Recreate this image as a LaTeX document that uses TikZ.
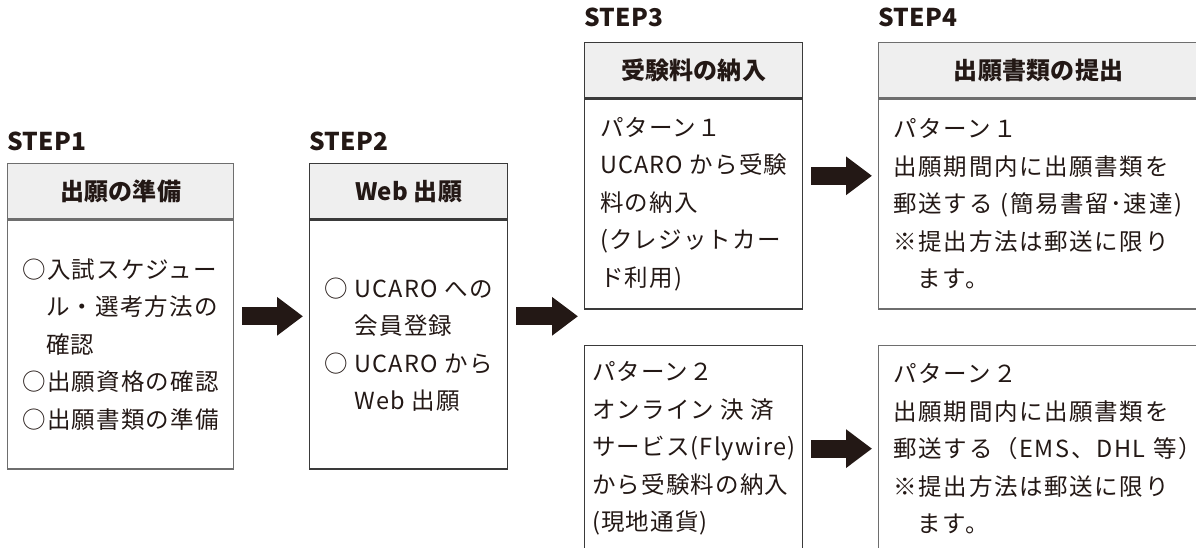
\documentclass[tikz,border=0pt]{standalone}
\usepackage{fontspec}
\setmainfont{Noto Sans CJK JP}[LetterSpace=5, BoldFeatures={LetterSpace=1}]
\newfontfamily\widefont{Noto Sans CJK JP}[LetterSpace=7]
\usetikzlibrary{positioning}
\usetikzlibrary{arrows.meta}
\usetikzlibrary{fit}
\definecolor{ink}{HTML}{231815}
\definecolor{headgray}{HTML}{EFEFEF}
\definecolor{framegray}{HTML}{6E6E6E}
\definecolor{framedark}{HTML}{3A3A3A}
\tikzset{head/.style = {draw=framegray, fill=headgray, line width=1.3pt,
                        anchor=north west, minimum height=55pt, inner sep=0pt,
                        text=ink, font=\fontsize{24}{28}\selectfont\bfseries},
         body/.style = {draw=framegray, line width=1.3pt, inner sep=0pt,
                        align=left, text=ink,
                        font=\fontsize{23.5}{37.5}\selectfont},
         widebody/.style = {body, inner xsep=15pt, text width=295pt,
                            font=\fontsize{23.5}{37.5}\widefont},
         steplabel/.style = {inner sep=0pt, text=ink,
                             font=\fontsize{24.5}{28}\selectfont\bfseries},
         frame/.style = {inner sep=0pt, outer sep=0pt},
         bigarrow/.style = {draw=ink, line width=18pt,
                            -{Triangle[length=26pt, width=37pt]},
                            shorten <=8pt, shorten >=6pt}}

\begin{document}
\begin{tikzpicture}[x=1pt, y=-1pt]
    \useasboundingbox (0, 0) rectangle (1196, 548);
    \clip (0, 0) rectangle (1196, 548);

    \node [head, minimum width=226] (h1) at (7, 163) {出願の準備};
    \node [body, minimum width=226, minimum height=249, below=0pt of h1] (b1)
      {○入試スケジュー\\\phantom{○}ル・選考方法の\\\phantom{○}確認\\○出願資格の確認\\○出願書類の準備};
    \node [steplabel, above right=12pt and 0pt of h1.north west] (s1) {STEP1};

    \node [head, draw=framedark, minimum width=198] (h2) at (309, 163) {Web 出願};
    \node [body, draw=framedark, minimum width=198, minimum height=249, below=0pt of h2] (b2)
      {○ UCARO への\\\phantom{○ }会員登録\\○ UCARO から\\\phantom{○ }Web 出願};
    \node [steplabel, above right=12pt and 0pt of h2.north west] (s2) {STEP2};

    \node [head, draw=framedark, minimum width=218] (h3) at (584, 42) {受験料の納入};
    \node [body, draw=framedark, minimum width=218, minimum height=210, below=0pt of h3] (b3)
      {パターン１\\UCARO から受験\\料の納入\\(クレジットカー\\ド利用)};
    \node [body, draw=framedark, anchor=north west, minimum width=218, minimum height=206] (b3b) at (584, 345)
      {パターン２\\オンライン 決 済\\サービス(Flywire)\\から受験料の納入\\(現地通貨)};
    \node [steplabel, above right=15pt and 0pt of h3.north west] (s3) {STEP3};

    \node [head, minimum width=320] (h4) at (878, 42) {出願書類の提出};
    \node [widebody, minimum height=210, below=0pt of h4.south west, anchor=north west] (b4)
      {パターン１\\出願期間内に出願書類を\\郵送する~(簡易書留･速達)\\※提出方法は郵送に限り\\\phantom{※}ます。};
    \node [widebody, anchor=north west, minimum height=206] (b4b) at (878, 345)
      {パターン２\\出願期間内に出願書類を\\郵送する（EMS、DHL~等）\\※提出方法は郵送に限り\\\phantom{※}ます。};
    \node [steplabel, above right=15pt and 0pt of h4.north west] (s4) {STEP4};

    \node [frame, fit=(h1)(b1)] (box1) {};
    \node [frame, fit=(h2)(b2)] (box2) {};
    \node [frame, fit=(h3)(b3)] (box3) {};
    \node [frame, fit=(h4)(b4)] (box4) {};

    \draw [bigarrow] (box1) -- (box2);
    \draw [bigarrow] (box2) -- (box2 -| box3.west);
    \draw [bigarrow] (box3) -- (box4);
    \draw [bigarrow] (b3b) -- (b4b);
\end{tikzpicture}
\end{document}
